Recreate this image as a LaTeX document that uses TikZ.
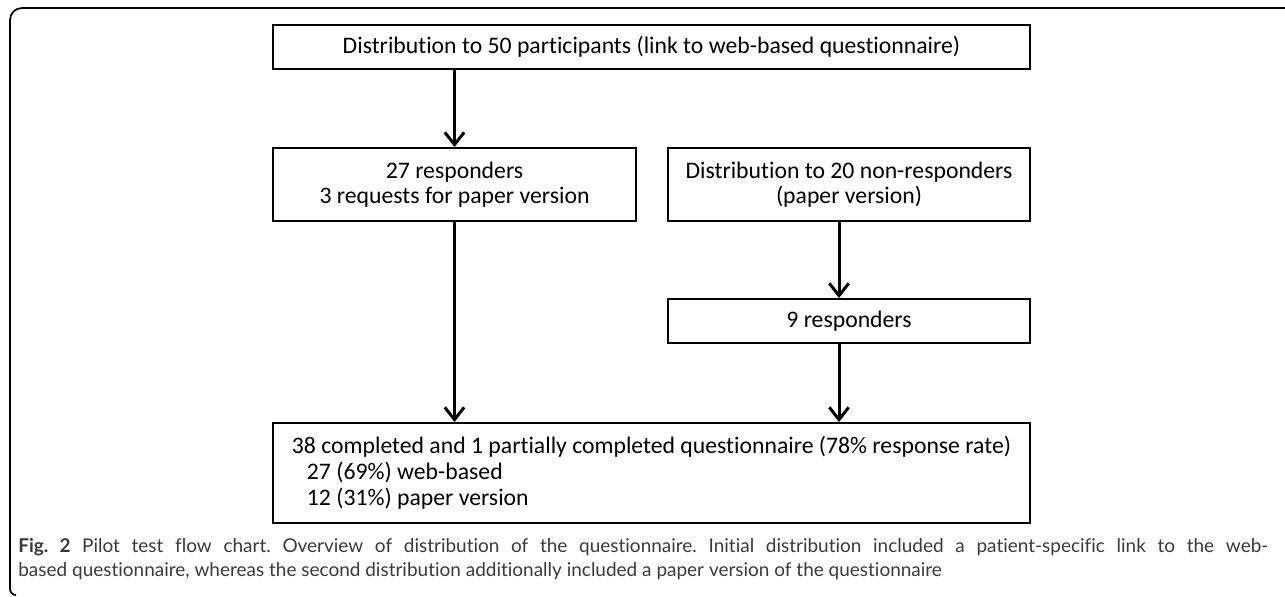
\documentclass[tikz,border=0pt]{standalone}
\usepackage{fontspec}
\setmainfont[Ligatures=NoCommon]{Carlito}
\newfontfamily\capfont[Ligatures=NoCommon]{Lato}
\usetikzlibrary{arrows.meta}
\definecolor{capgray}{HTML}{3A3A3A}
\tikzset{
  flowbox/.style={draw, line width=1.1pt, inner sep=0pt, align=center, font=\fontsize{13.5}{14.2}\selectfont},
  flowarrow/.style={line width=1.7pt, -{Straight Barb[length=7pt,width=11pt,line width=1.7pt]}}
}
\begin{document}
\begin{tikzpicture}[x=0.02cm,y=-0.02cm]
  \useasboundingbox (0,0) rectangle (1285,596);
  % frame round the figure
  \draw[line width=1pt] (16,595) arc[start angle=90,end angle=180,radius=6] -- (10,20) arc[start angle=180,end angle=270,radius=12] -- (1285,8);
  % boxes
  \node[flowbox, minimum width=15.14cm, minimum height=0.88cm] (dist50) at (651.5,47) {Distribution to 50 participants (link to web-based questionnaire)};
  \node[flowbox, minimum width=7.26cm, minimum height=1.46cm] (resp27) at (454.5,184.5) {27 responders\\3 requests for paper version};
  \node[flowbox, minimum width=7.24cm, minimum height=1.46cm] (dist20) at (849,184.5) {Distribution to 20 non-responders\\(paper version)};
  \node[flowbox, minimum width=7.24cm, minimum height=0.88cm] (resp9) at (849,321) {9 responders};
  \node[flowbox, minimum width=15.14cm, minimum height=2cm, align=left, font=\fontsize{13.5}{14.8}\selectfont] (total) at (651.5,473)
    {38 completed and 1 partially completed questionnaire (78\% response rate)\\
     \hspace*{0.3cm}27 (69\%) web-based\\
     \hspace*{0.3cm}12 (31\%) paper version};
  % arrows
  \coordinate (rcol) at (839,0);
  \draw[flowarrow] (dist50.south -| resp27.north) -- (resp27.north);
  \draw[flowarrow] (resp27.south) -- (total.north -| resp27.south);
  \draw[flowarrow] (dist20.south -| rcol) -- (resp9.north -| rcol);
  \draw[flowarrow] (resp9.south -| rcol) -- (total.north -| rcol);
  % caption
  \node[anchor=north west, inner sep=0pt, text=capgray, font=\capfont\fontsize{10.8}{13.6}\selectfont\frenchspacing] (caption) at (18,538)
    {\parbox{25cm}{\textbf{Fig. 2} Pilot test flow chart. Overview of distribution of the questionnaire. Initial distribution included a patient-specific link to the web-\linebreak based questionnaire, whereas the second distribution additionally included a paper version of the questionnaire}};
\end{tikzpicture}
\end{document}
